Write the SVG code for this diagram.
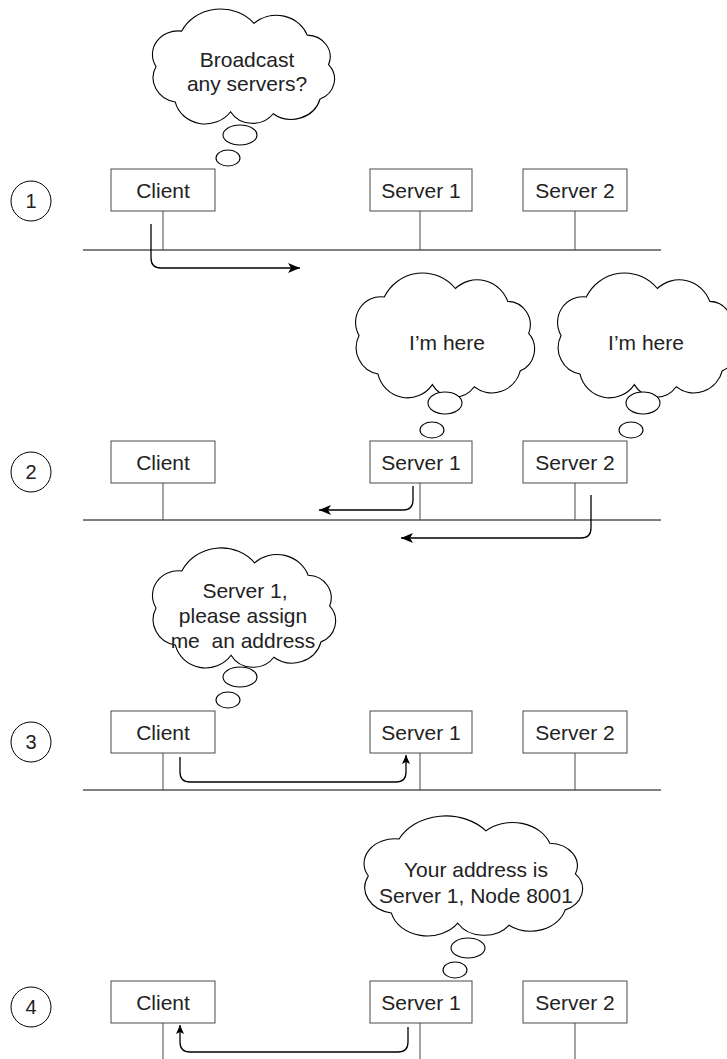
<svg xmlns="http://www.w3.org/2000/svg" width="727" height="1059" viewBox="0 0 727 1059">
<style>
.box{fill:#fff;stroke:#4a4a4a;stroke-width:1}
.stem{stroke:#4a4a4a;stroke-width:1}
.bus{stroke:#000;stroke-width:1}
.lbl{font-family:"Liberation Sans",Arial,sans-serif;font-size:21px;fill:#222;text-anchor:middle}
.num{font-family:"Liberation Sans",Arial,sans-serif;font-size:20px;fill:#222;text-anchor:middle}
.ring{fill:none;stroke:#000;stroke-width:1}
.cloud{fill:#fff;stroke:#000;stroke-width:1.1;vector-effect:non-scaling-stroke}
.bub{fill:#fff;stroke:#000;stroke-width:1.1}
.arr{fill:none;stroke:#000;stroke-width:1.3}
</style>
<defs>
<path id="cloudShape" class="cloud" d="M8,62 A24,24 0 0 1 32,26 A41,41 0 0 1 100,18 A31,31 0 0 1 150,30 A22,22 0 0 1 170,60 A22,22 0 0 1 162,95 A28,28 0 0 1 118,110 A24,24 0 0 1 78,108 A29,29 0 0 1 26,98 A25,25 0 0 1 8,62 Z"/>
<marker id="ahBig" markerUnits="userSpaceOnUse" markerWidth="14" markerHeight="12" refX="12" refY="5" orient="auto">
<path d="M0,0 L12,5 L0,10 L3,5 Z" fill="#000"/>
</marker>
<marker id="ahSmall" markerUnits="userSpaceOnUse" markerWidth="10" markerHeight="10" refX="9" refY="4" orient="auto">
<path d="M0,0 L9,4 L0,8 L2,4 Z" fill="#000"/>
</marker>
</defs>

<!-- step labels -->
<g id="step1"><ellipse class="ring" cx="31" cy="201" rx="20" ry="20"/><text class="num" x="31" y="208">1</text></g>
<g id="step2"><ellipse class="ring" cx="31" cy="472" rx="20" ry="20"/><text class="num" x="31" y="479">2</text></g>
<g id="step3"><ellipse class="ring" cx="31" cy="742" rx="20" ry="20"/><text class="num" x="31" y="749">3</text></g>
<g id="step4"><ellipse class="ring" cx="31" cy="1007" rx="20" ry="20"/><text class="num" x="31" y="1014">4</text></g>

<!-- connectors: buses, stems, arrows -->
<g id="connectors">
<line class="bus" x1="83" y1="250" x2="661" y2="250"/>
<line class="stem" x1="163" y1="211" x2="163" y2="250"/>
<line class="stem" x1="420" y1="211" x2="420" y2="250"/>
<line class="stem" x1="575" y1="211" x2="575" y2="250"/>
<path class="arr" d="M151,224 V258 Q151,268 161,268 H300" marker-end="url(#ahBig)"/>

<line class="bus" x1="83" y1="520" x2="661" y2="520"/>
<line class="stem" x1="163" y1="483" x2="163" y2="520"/>
<line class="stem" x1="420" y1="483" x2="420" y2="520"/>
<line class="stem" x1="575" y1="483" x2="575" y2="520"/>
<path class="arr" d="M413,486 V500 Q413,510 403,510 H319" marker-end="url(#ahBig)"/>
<path class="arr" d="M591,495 V528 Q591,538 581,538 H401" marker-end="url(#ahBig)"/>

<line class="bus" x1="83" y1="790" x2="661" y2="790"/>
<line class="stem" x1="163" y1="753" x2="163" y2="790"/>
<line class="stem" x1="420" y1="753" x2="420" y2="790"/>
<line class="stem" x1="575" y1="753" x2="575" y2="790"/>
<path class="arr" d="M180,757 V772 Q180,782 190,782 H396 Q406,782 406,772 V755" marker-end="url(#ahSmall)"/>

<line class="stem" x1="163" y1="1022" x2="163" y2="1059"/>
<line class="stem" x1="420" y1="1022" x2="420" y2="1059"/>
<line class="stem" x1="575" y1="1022" x2="575" y2="1059"/>
<path class="arr" d="M408,1027 V1042 Q408,1052 398,1052 H190 Q180,1052 180,1042 V1025" marker-end="url(#ahSmall)"/>
</g>

<!-- panel 1 -->
<g id="p1-client"><rect class="box" x="111" y="169" width="104" height="42"/><text class="lbl" x="163" y="198">Client</text></g>
<g id="p1-server1"><rect class="box" x="370" y="169" width="102" height="42"/><text class="lbl" x="421" y="198">Server 1</text></g>
<g id="p1-server2"><rect class="box" x="523" y="169" width="104" height="42"/><text class="lbl" x="575" y="198">Server 2</text></g>
<g id="p1-thought">
<use href="#cloudShape" transform="translate(147.5,5.6) scale(1.065,0.983)"/>
<ellipse class="bub" cx="240" cy="135" rx="17" ry="10"/>
<ellipse class="bub" cx="228" cy="158" rx="12" ry="8"/>
<text class="lbl" x="247" y="67">Broadcast</text>
<text class="lbl" x="247" y="91">any servers?</text>
</g>

<!-- panel 2 -->
<g id="p2-client"><rect class="box" x="111" y="441" width="104" height="42"/><text class="lbl" x="163" y="470">Client</text></g>
<g id="p2-server1"><rect class="box" x="370" y="441" width="102" height="42"/><text class="lbl" x="421" y="470">Server 1</text></g>
<g id="p2-server2"><rect class="box" x="523" y="441" width="104" height="42"/><text class="lbl" x="575" y="470">Server 2</text></g>
<g id="p2-thought1">
<use href="#cloudShape" transform="translate(350.7,269.3) scale(1.047,1.068)"/>
<ellipse class="bub" cx="445" cy="403" rx="17" ry="11"/>
<ellipse class="bub" cx="432" cy="430" rx="12" ry="8"/>
<text class="lbl" x="447" y="350">I’m here</text>
</g>
<g id="p2-thought2">
<use href="#cloudShape" transform="translate(552.7,269.3) scale(1.047,1.068)"/>
<ellipse class="bub" cx="643" cy="403" rx="17" ry="11"/>
<ellipse class="bub" cx="631" cy="430" rx="12" ry="8"/>
<text class="lbl" x="646" y="350">I’m here</text>
</g>

<!-- panel 3 -->
<g id="p3-client"><rect class="box" x="111" y="711" width="104" height="42"/><text class="lbl" x="163" y="740">Client</text></g>
<g id="p3-server1"><rect class="box" x="370" y="711" width="102" height="42"/><text class="lbl" x="421" y="740">Server 1</text></g>
<g id="p3-server2"><rect class="box" x="523" y="711" width="104" height="42"/><text class="lbl" x="575" y="740">Server 2</text></g>
<g id="p3-thought">
<use href="#cloudShape" transform="translate(147.5,544.4) scale(1.071,1.026)"/>
<ellipse class="bub" cx="240" cy="677" rx="17" ry="10"/>
<ellipse class="bub" cx="228" cy="700" rx="12" ry="8"/>
<text class="lbl" x="245" y="598">Server 1,</text>
<text class="lbl" x="243" y="623">please assign</text>
<text class="lbl" x="243" y="648" xml:space="preserve">me  an address</text>
</g>

<!-- panel 4 -->
<g id="p4-client"><rect class="box" x="111" y="981" width="104" height="42"/><text class="lbl" x="163" y="1010">Client</text></g>
<g id="p4-server1"><rect class="box" x="370" y="981" width="102" height="42"/><text class="lbl" x="421" y="1010">Server 1</text></g>
<g id="p4-server2"><rect class="box" x="523" y="981" width="104" height="42"/><text class="lbl" x="575" y="1010">Server 2</text></g>
<g id="p4-thought">
<use href="#cloudShape" transform="translate(358.1,812.4) scale(1.278,1.026)"/>
<ellipse class="bub" cx="468" cy="948" rx="17" ry="10"/>
<ellipse class="bub" cx="455" cy="970" rx="12" ry="8"/>
<text class="lbl" x="476" y="877">Your address is</text>
<text class="lbl" x="476" y="903">Server 1, Node 8001</text>
</g>
</svg>
